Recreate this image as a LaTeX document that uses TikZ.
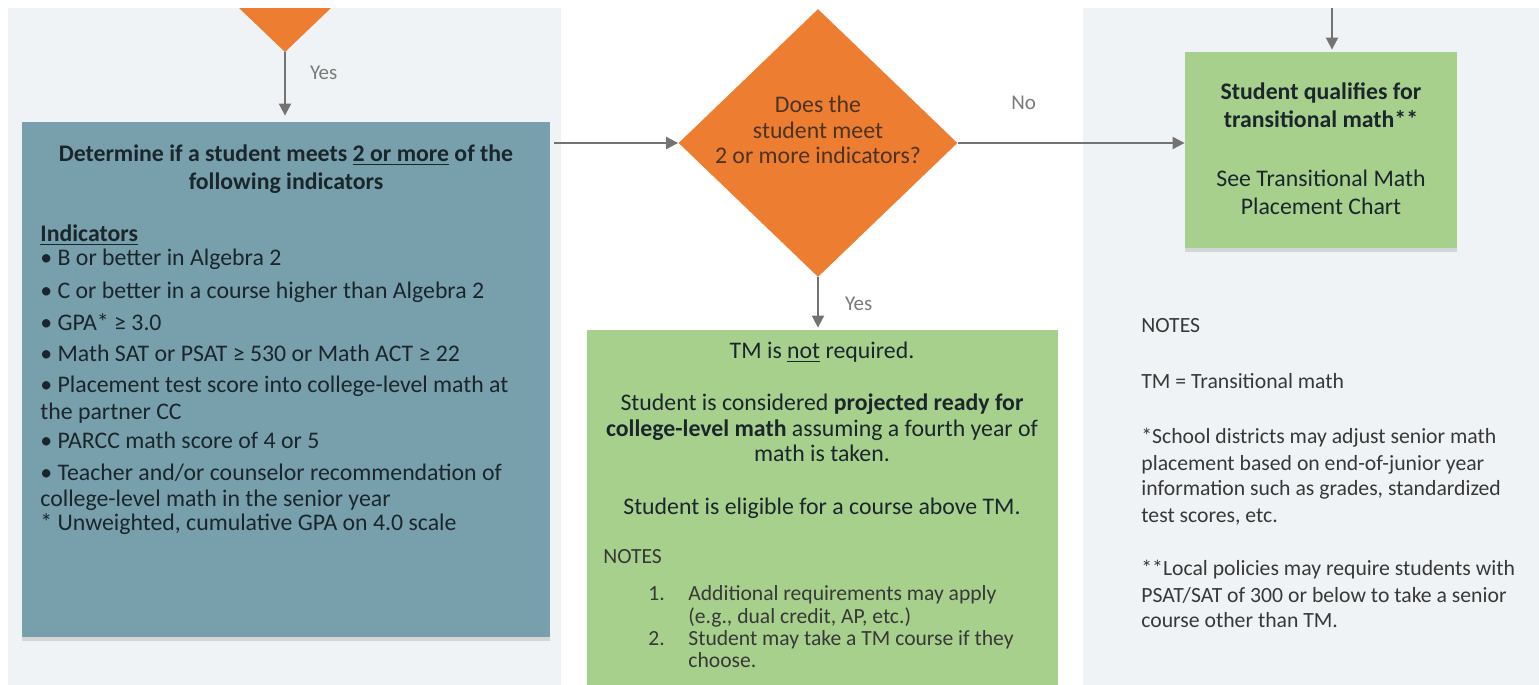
\documentclass[tikz,border=0pt]{standalone}
\usepackage{fontspec}
\setmainfont{Carlito}
\usetikzlibrary{shapes.geometric,arrows.meta,shadows}

\definecolor{panelgray}{HTML}{EFF3F5}
\definecolor{tealfill}{HTML}{78A0AC}
\definecolor{greenfill}{HTML}{A8D08D}
\definecolor{orangefill}{HTML}{ED7D31}
\definecolor{arrowgray}{HTML}{737373}
\definecolor{labelgray}{HTML}{7A7A7A}
\definecolor{darktext}{HTML}{1A262C}
\definecolor{notetext}{HTML}{383838}
\definecolor{asktext}{HTML}{4D3322}

\tikzset{
  box/.style={rectangle, inner sep=0pt,
    drop shadow={shadow xshift=0pt, shadow yshift=-2pt, opacity=0.25}},
  tealbox/.style={box, fill=tealfill},
  greenbox/.style={box, fill=greenfill},
  decision/.style={diamond, fill=orangefill, inner sep=0pt},
  flow/.style={->, draw=arrowgray, line width=1pt},
  lbl/.style={text=labelgray, inner sep=0pt, font=\fontsize{10.5}{12}\selectfont},
  bigline/.style={inner sep=0pt, text=darktext, font=\fontsize{11.9}{14}\selectfont},
  smallline/.style={inner sep=0pt, text=notetext, font=\fontsize{10.8}{13}\selectfont},
  noteline/.style={smallline, font=\fontsize{10.85}{13}\selectfont},
}

\begin{document}
\begin{tikzpicture}[x=0.5pt, y=-0.5pt, >={Triangle[length=6pt,width=6pt]}]
% page and the two grey panels
\fill[white] (0,0) rectangle (1539,685);
\useasboundingbox (0,0) rectangle (1539,685);
\fill[panelgray] (8,8) rectangle (561,685);
\fill[panelgray] (1083,8) rectangle (1539,685);

% decision above, only its lower tip is seen
\coordinate (prevtip) at (285,52);
\fill[orangefill] (239,8) -- (331,8) -- (prevtip) -- cycle;

% boxes
\node[tealbox, minimum width=264pt, minimum height=257.5pt] (indbox) at (286,379.5) {};
\node[decision, minimum width=139.5pt, minimum height=134pt] (ask) at (818,143) {};
\node[greenbox, minimum width=136pt, minimum height=98pt] (tmbox) at (1321,150) {};
\node[greenbox, minimum width=235.5pt, minimum height=177.5pt] (notbox) at (822.5,507.5) {};

% connectors
\draw[flow, shorten >=3pt] (prevtip) -- (prevtip |- indbox.north)
    node[lbl, pos=0.3, right=12pt]{Yes};
\draw[flow] ([xshift=2pt]indbox.east |- ask.west) -- (ask.west);
\draw[flow] (ask.east) -- (ask.east -| tmbox.west)
    node[lbl, pos=0.29, above=16pt]{No};
\draw[flow, shorten >=1pt] (ask.south) -- (ask.south |- notbox.north)
    node[lbl, midway, right=13pt]{Yes};
\coordinate (fromabove) at (1332,8);
\draw[flow, shorten >=1pt] (fromabove) -- (fromabove |- tmbox.north);

% text of the decision
\node[align=center, text=asktext, font=\fontsize{11.9}{12.8}\selectfont] (asktxt) at (818,130)
    {Does the\\student meet\\2 or more indicators?};

% indicators box
\node[bigline, anchor=base] (ttl1) at (286,161) {\bfseries Determine if a student meets \underline{2 or more} of the};
\node[bigline, anchor=base] (ttl2) at (286,189) {\bfseries following indicators};
\node[bigline, anchor=base west] (ind0) at (40,241) {\bfseries\underline{Indicators}};
\node[bigline, anchor=base west] (ind1) at (40,265) {• B or better in Algebra 2};
\node[bigline, anchor=base west] (ind2) at (40,298) {• C or better in a course higher than Algebra 2};
\node[bigline, anchor=base west] (ind3) at (40,330) {• GPA* ≥ 3.0};
\node[bigline, anchor=base west] (ind4) at (40,361) {• Math SAT or PSAT ≥ 530 or Math ACT ≥ 22};
\node[bigline, anchor=base west] (ind5) at (40,392) {• Placement test score into college-level math at};
\node[bigline, anchor=base west] (ind5b) at (40,419) {the partner CC};
\node[bigline, anchor=base west] (ind6) at (40,448) {• PARCC math score of 4 or 5};
\node[bigline, anchor=base west] (ind7) at (40,480) {• Teacher and/or counselor recommendation of};
\node[bigline, anchor=base west] (ind7b) at (40,506) {college-level math in the senior year};
\node[bigline, anchor=base west] (gpanote) at (40,530) {* Unweighted, cumulative GPA on 4.0 scale};

% not required box
\node[bigline, anchor=base] (nr1) at (822,358) {TM is \underline{not} required.};
\node[bigline, anchor=base] (nr2) at (822,410) {Student is considered \textbf{projected ready for}};
\node[bigline, anchor=base] (nr3) at (822,436) {\textbf{college-level math} assuming a fourth year of};
\node[bigline, anchor=base] (nr4) at (822,461) {math is taken.};
\node[bigline, anchor=base] (nr5) at (822,514) {Student is eligible for a course above TM.};
\node[smallline, anchor=base west] (nrnotes) at (603,563) {NOTES};
\node[smallline, anchor=base west] (nrn1) at (648,600) {1.};
\node[smallline, anchor=base west] (nrn1a) at (688,600) {Additional requirements may apply};
\node[smallline, anchor=base west] (nrn1b) at (688,623) {(e.g., dual credit, AP, etc.)};
\node[smallline, anchor=base west] (nrn2) at (648,645) {2.};
\node[smallline, anchor=base west] (nrn2a) at (688,645) {Student may take a TM course if they};
\node[smallline, anchor=base west] (nrn2b) at (688,667) {choose.};

% transitional math box
\node[bigline, anchor=base] (tm1) at (1321,99) {\bfseries Student qualifies for};
\node[bigline, anchor=base] (tm2) at (1321,127) {\bfseries transitional math**};
\node[bigline, anchor=base] (tm3) at (1321,186) {See Transitional Math};
\node[bigline, anchor=base] (tm4) at (1321,214) {Placement Chart};

% notes on the right
\node[noteline, anchor=base west] (rn0) at (1141,332) {NOTES};
\node[noteline, anchor=base west] (rn1) at (1141,388) {TM = Transitional math};
\node[noteline, anchor=base west] (rn2) at (1141,443) {*School districts may adjust senior math};
\node[noteline, anchor=base west] (rn3) at (1141,470) {placement based on end-of-junior year};
\node[noteline, anchor=base west] (rn4) at (1141,495) {information such as grades, standardized};
\node[noteline, anchor=base west] (rn5) at (1141,522) {test scores, etc.};
\node[noteline, anchor=base west] (rn6) at (1141,575) {**Local policies may require students with};
\node[noteline, anchor=base west] (rn7) at (1141,602) {PSAT/SAT of 300 or below to take a senior};
\node[noteline, anchor=base west] (rn8) at (1141,627) {course other than TM.};
\end{tikzpicture}
\end{document}
